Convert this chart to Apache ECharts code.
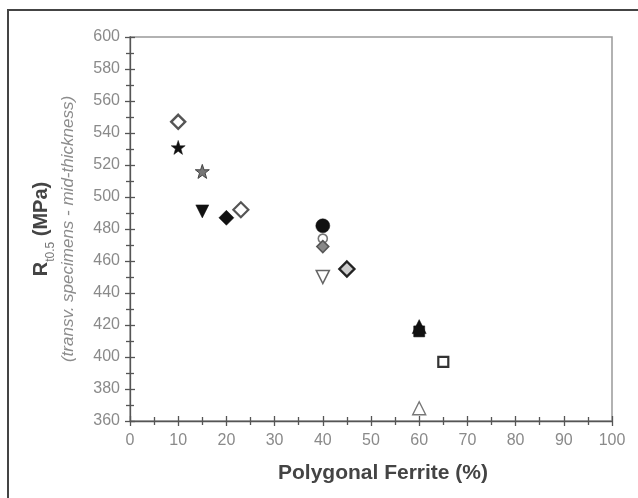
<!DOCTYPE html>
<html>
<head>
<meta charset="utf-8">
<script src="https://cdn.jsdelivr.net/npm/echarts@6/dist/echarts.min.js"></script>
<style>
  html, body { margin: 0; padding: 0; background: #fff; }
  #chart { width: 638px; height: 498px; }
</style>
</head>
<body>
<div id="chart"></div>
<script>
// Polygonal ferrite fraction (%) for each steel
const ferritePct = [10, 10, 15, 15, 20, 23, 40, 40, 40, 40, 45, 60, 60, 65, 60];
// Tensile strength Rt0.5 (MPa), transverse specimens at mid-thickness
const strengthMPa = [547, 531, 516, 491, 487, 492, 482, 474, 469, 450, 455, 419, 416, 397, 368];
// Axis ranges
const xRange = [0, 100];
const yRange = [360, 600];

const STAR = 'path://M50,0 L61.8,35.1 L97.6,34.5 L69.1,56.2 L79.4,90.5 L50,70 L20.6,90.5 L30.9,56.2 L2.4,34.5 L38.2,35.1 Z';

// Marker style for each point (same order as the data)
const markerStyles = [
  { symbol: 'diamond', size: 14, fill: '#fff', stroke: '#555', bw: 2.4 },
  { symbol: STAR, size: 14, fill: '#111', stroke: '#111', bw: 0.5 },
  { symbol: STAR, size: 14, fill: '#777', stroke: '#444', bw: 1 },
  { symbol: 'triangle', size: 13, fill: '#111', stroke: '#111', bw: 0.5, rotate: 180 },
  { symbol: 'diamond', size: 15, fill: '#111', stroke: '#111', bw: 0.5 },
  { symbol: 'diamond', size: 15, fill: '#fff', stroke: '#555', bw: 2.2 },
  { symbol: 'circle', size: 14, fill: '#111', stroke: '#111', bw: 0.5 },
  { symbol: 'circle', size: 9, fill: '#fff', stroke: '#777', bw: 1.6 },
  { symbol: 'diamond', size: 12, fill: '#888', stroke: '#555', bw: 1.5 },
  { symbol: 'triangle', size: 13, fill: '#fff', stroke: '#666', bw: 1.6, rotate: 180 },
  { symbol: 'diamond', size: 15, fill: '#ccc', stroke: '#222', bw: 2.4 },
  { symbol: 'triangle', size: 14, fill: '#111', stroke: '#111', bw: 0.5 },
  { symbol: 'rect', size: 11, fill: '#111', stroke: '#111', bw: 0.5 },
  { symbol: 'rect', size: 10, fill: '#fff', stroke: '#333', bw: 2.2 },
  { symbol: 'triangle', size: 13, fill: '#fff', stroke: '#777', bw: 1.4 }
];

const series = ferritePct.map((x, i) => {
  const s = markerStyles[i];
  return {
    type: 'scatter',
    xAxisIndex: 0,
    yAxisIndex: 0,
    symbol: s.symbol,
    symbolSize: s.size,
    symbolRotate: s.rotate || 0,
    itemStyle: { color: s.fill, borderColor: s.stroke, borderWidth: s.bw, opacity: 1 },
    data: [[x, strengthMPa[i]]],
    z: 5
  };
});

const FONT = 'Liberation Sans, Arial, sans-serif';
const axisLineStyle = { color: '#555', width: 1.3 };
const tickLabelStyle = { color: '#8a8a8a', fontSize: 16, fontFamily: FONT };

const chart = echarts.init(document.getElementById('chart'), null, { renderer: 'canvas' });
chart.setOption({
  animation: false,
  backgroundColor: '#fff',
  grid: {
    left: 130, right: 26, top: 37, bottom: 77,
    show: true, borderColor: '#999', borderWidth: 1.5, backgroundColor: 'transparent'
  },
  xAxis: [
    {
      type: 'value', min: xRange[0], max: xRange[1], interval: 10,
      axisLine: { show: true, lineStyle: axisLineStyle },
      axisTick: { show: true, inside: false, length: 5, lineStyle: axisLineStyle },
      minorTick: { show: true, splitNumber: 2, length: 4, lineStyle: axisLineStyle },
      axisLabel: Object.assign({ margin: 12 }, tickLabelStyle),
      splitLine: { show: false }
    },
    {
      type: 'value', min: xRange[0], max: xRange[1], interval: 10, position: 'bottom',
      axisLine: { show: false },
      axisTick: { show: true, inside: true, length: 5, lineStyle: axisLineStyle },
      minorTick: { show: true, splitNumber: 2, length: 4, lineStyle: axisLineStyle },
      axisLabel: { show: false },
      splitLine: { show: false }
    }
  ],
  yAxis: [
    {
      type: 'value', min: yRange[0], max: yRange[1], interval: 20,
      axisLine: { show: true, lineStyle: axisLineStyle },
      axisTick: { show: true, inside: false, length: 5, lineStyle: axisLineStyle },
      minorTick: { show: true, splitNumber: 2, length: 4, lineStyle: axisLineStyle },
      axisLabel: Object.assign({ margin: 10 }, tickLabelStyle),
      splitLine: { show: false },
      name: '{r|R}{s|t0.5}{r| (MPa)}\n{i|(transv. specimens - mid-thickness)}',
      nameLocation: 'middle',
      nameRotate: 90,
      nameGap: 51,
      nameTextStyle: {
        align: 'center',
        rich: {
          r: { fontSize: 20, fontWeight: 'bold', color: '#444', fontFamily: FONT, lineHeight: 32 },
          s: { fontSize: 12, color: '#777', fontFamily: FONT, verticalAlign: 'bottom', lineHeight: 20 },
          i: { fontSize: 17, fontStyle: 'italic', color: '#8c8c8c', fontFamily: FONT, lineHeight: 22 }
        }
      }
    },
    {
      type: 'value', min: yRange[0], max: yRange[1], interval: 20, position: 'left',
      axisLine: { show: false },
      axisTick: { show: true, inside: true, length: 5, lineStyle: axisLineStyle },
      minorTick: { show: true, splitNumber: 2, length: 4, lineStyle: axisLineStyle },
      axisLabel: { show: false },
      splitLine: { show: false }
    }
  ],
  graphic: [
    {
      type: 'rect',
      shape: { x: 8, y: 10, width: 700, height: 600 },
      style: { fill: 'none', stroke: '#444', lineWidth: 2 },
      silent: true
    },
    {
      type: 'text',
      x: 383, y: 473,
      style: {
        text: 'Polygonal Ferrite (%)',
        fill: '#444',
        font: 'bold 21px "Liberation Sans", Arial, sans-serif',
        align: 'center',
        verticalAlign: 'middle'
      },
      silent: true
    }
  ],
  series: series
});
</script>
</body>
</html>
